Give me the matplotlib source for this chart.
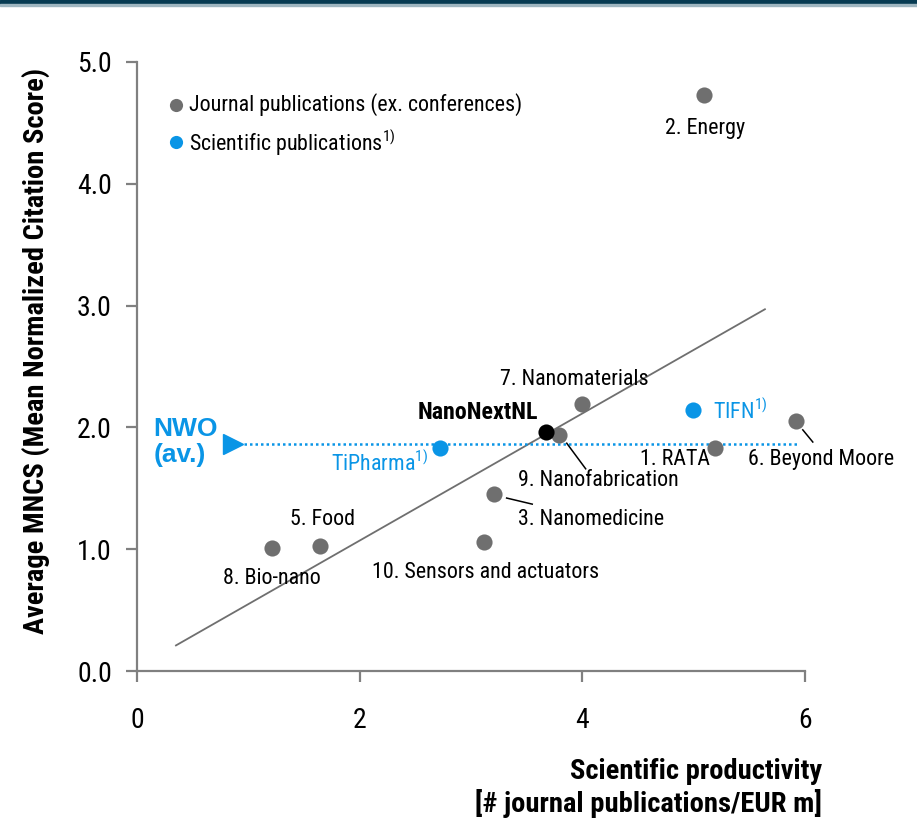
import matplotlib.pyplot as plt
from matplotlib.patches import Rectangle

plt.rcParams["font.family"] = ["Roboto Condensed", "Liberation Sans", "DejaVu Sans"]
plt.rcParams["mathtext.fontset"] = "custom"
plt.rcParams["mathtext.rm"] = "Roboto Condensed"

# --------------------------------------------------
# Data
# --------------------------------------------------
journal_names = ["2. Energy", "7. Nanomaterials", "9. Nanofabrication", "6. Beyond Moore",
                 "1. RATA", "3. Nanomedicine", "10. Sensors and actuators", "5. Food", "8. Bio-nano"]
journal_x = [5.09, 4.00, 3.79, 5.92, 5.19, 3.21, 3.12, 1.64, 1.21]
journal_y = [4.73, 2.19, 1.94, 2.05, 1.83, 1.45, 1.06, 1.03, 1.01]

sci_names = ["TIFN", "TiPharma"]
sci_x = [4.99, 2.72]
sci_y = [2.14, 1.83]

nano_x, nano_y = 3.67, 1.96

nwo_avg = 1.86
nwo_x = [0.86, 5.93]

trend_x = [0.35, 5.64]
trend_y = [0.21, 2.97]

GRAY = "#6f6f6f"
BLUE = "#0a95e6"
AXIS = "#808080"

# --------------------------------------------------
# Figure
# --------------------------------------------------
fig = plt.figure(figsize=(9.17, 8.21), dpi=100)
ax = fig.add_axes([137 / 917, 1 - 671 / 821, 668 / 917, 609 / 821])

fig.patches.append(Rectangle((0, 1 - 4 / 821), 1, 4 / 821, transform=fig.transFigure,
                             color="#073b52", zorder=0))
fig.patches.append(Rectangle((0, 1 - 6 / 821), 1, 2 / 821, transform=fig.transFigure,
                             color="#9fb6c0", zorder=0))

# trend line
ax.plot(trend_x, trend_y, color=GRAY, lw=1.3, zorder=2)

# NWO average
ax.plot(nwo_x, [nwo_avg, nwo_avg], color=BLUE, lw=1.8, ls=(0, (1, 1.2)), zorder=2)
ax.plot(nwo_x[0], nwo_avg, marker=">", color=BLUE, ms=15, zorder=3, clip_on=False)
ax.text(0.15, nwo_avg + 0.02, "NWO\n(av.)", color=BLUE, fontsize=19, fontweight="bold",
        family=["Liberation Sans", "DejaVu Sans"], va="center", ha="left", linespacing=1.1)

# points
ax.scatter(journal_x, journal_y, s=135, color=GRAY, zorder=4, clip_on=False, linewidths=0)
ax.scatter(sci_x, sci_y, s=135, color=BLUE, zorder=4, clip_on=False, linewidths=0)
ax.scatter([nano_x], [nano_y], s=135, color="black", zorder=5, clip_on=False, linewidths=0)

fs = 15.8
# journal labels
ax.text(5.10, 4.45, journal_names[0], fontsize=fs, ha="center", va="center")
ax.text(3.93, 2.39, journal_names[1], fontsize=fs, ha="center", va="center")
ax.text(3.42, 1.56, journal_names[2], fontsize=fs, ha="left", va="center")
ax.text(5.49, 1.74, journal_names[3], fontsize=fs, ha="left", va="center")
ax.text(5.15, 1.74, journal_names[4], fontsize=fs, ha="right", va="center")
ax.text(3.42, 1.24, journal_names[5], fontsize=fs, ha="left", va="center")
ax.text(2.11, 0.81, journal_names[6], fontsize=fs, ha="left", va="center")
ax.text(1.37, 1.24, journal_names[7], fontsize=fs, ha="left", va="center")
ax.text(0.77, 0.76, journal_names[8], fontsize=fs, ha="left", va="center")

# leader lines
ax.plot([3.86, 4.03], [1.87, 1.66], color="black", lw=1.1, zorder=3)
ax.plot([3.32, 3.55], [1.42, 1.37], color="black", lw=1.1, zorder=3)
ax.plot([5.98, 6.07], [1.98, 1.88], color="black", lw=1.1, zorder=3, clip_on=False)

# scientific labels
ax.text(5.17, 2.14, sci_names[0] + "$^{1)}$", fontsize=fs, color=BLUE, ha="left", va="center")
ax.text(2.62, 1.71, sci_names[1] + "$^{1)}$", fontsize=fs, color=BLUE, ha="right", va="center")
ax.text(3.60, 2.12, "NanoNextNL", fontsize=17.3, fontweight="bold", ha="right", va="center")

# legend
ax.scatter([0.35], [4.65], s=90, color=GRAY, linewidths=0, clip_on=False)
ax.text(0.47, 4.65, "Journal publications (ex. conferences)", fontsize=fs, va="center", ha="left")
ax.scatter([0.35], [4.34], s=90, color=BLUE, linewidths=0, clip_on=False)
ax.text(0.47, 4.34, "Scientific publications$^{1)}$", fontsize=fs, va="center", ha="left")

# axes
ax.set_xlim(0, 6)
ax.set_ylim(0, 5)
ax.set_xticks([0, 2, 4, 6])
ax.set_yticks([0, 1, 2, 3, 4, 5])
ax.set_yticklabels(["0.0", "1.0", "2.0", "3.0", "4.0", "5.0"])
for side in ["top", "right"]:
    ax.spines[side].set_visible(False)
for side in ["left", "bottom"]:
    ax.spines[side].set_color(AXIS)
    ax.spines[side].set_linewidth(1.6)
ax.tick_params(axis="x", direction="out", length=8, width=1.6, color=AXIS, labelsize=20, pad=18)
ax.tick_params(axis="y", direction="out", length=8, width=1.6, color=AXIS, labelsize=20, pad=10)

ax.set_ylabel("Average MNCS (Mean Normalized Citation Score)", fontsize=20.5, fontweight="bold")
ax.yaxis.set_label_coords(-0.13, 0.525)

fig.text(822 / 917, 1 - 771 / 821, "Scientific productivity", fontsize=20.5, fontweight="bold",
         ha="right", va="center")
fig.text(822 / 917, 1 - 803 / 821, "[# journal publications/EUR m]", fontsize=20.5, fontweight="bold",
         ha="right", va="center")

plt.savefig("out.png", dpi=100)
